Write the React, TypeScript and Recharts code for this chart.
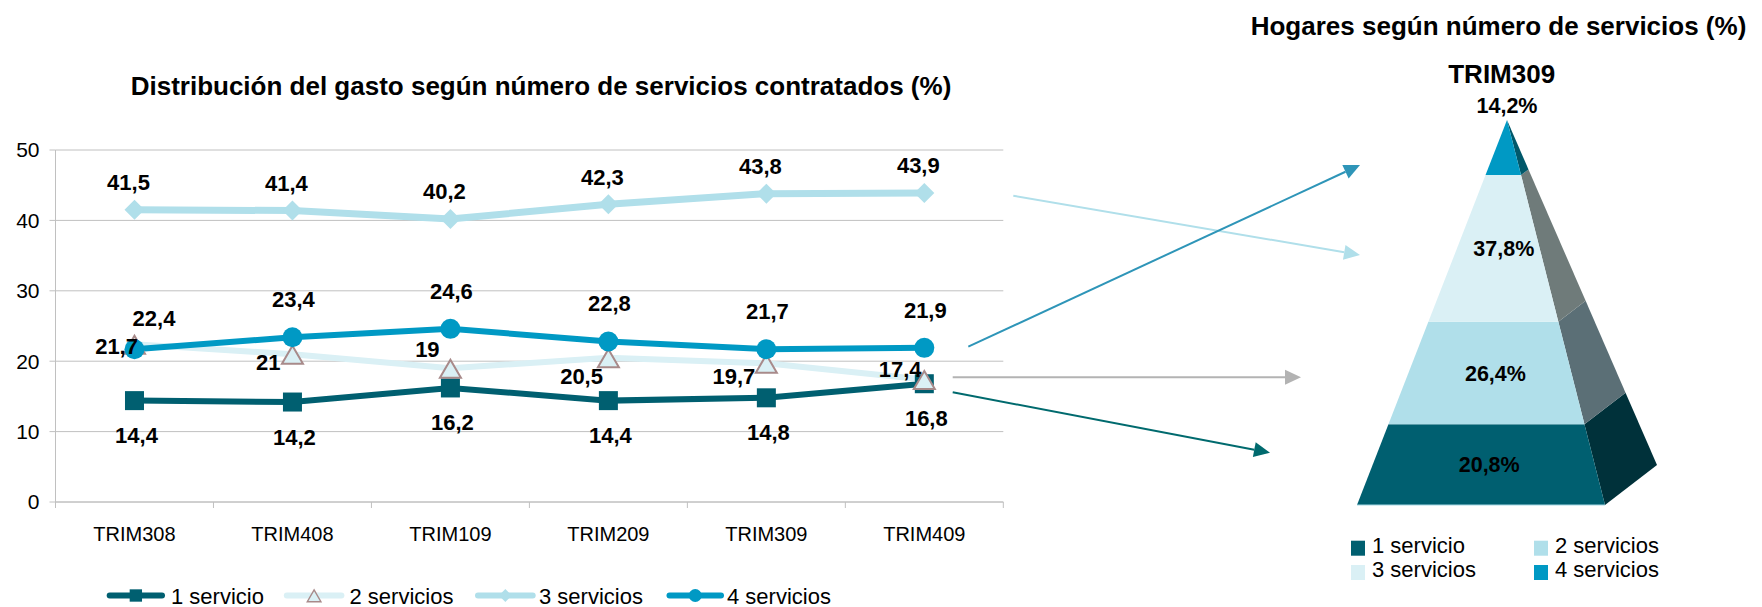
import React from 'react';
import { LineChart, Line, XAxis, YAxis, CartesianGrid, LabelList, Legend, BarChart, Bar } from 'recharts';

// ---------- data ----------
const categories = ['TRIM308', 'TRIM408', 'TRIM109', 'TRIM209', 'TRIM309', 'TRIM409'];
const oneService = [14.4, 14.2, 16.2, 14.4, 14.8, 16.8];
const twoServices = [22.4, 21, 19, 20.5, 19.7, 17.4];
const threeServices = [41.5, 41.4, 40.2, 42.3, 43.8, 43.9];
const fourServices = [21.7, 23.4, 24.6, 22.8, 21.7, 21.9];
const yTicks = [0, 10, 20, 30, 40, 50];
const seriesNames = ['1 servicio', '2 servicios', '3 servicios', '4 servicios'];

const pyramidPeriod = 'TRIM309';
const pyramidShares = [20.8, 26.4, 37.8, 14.2]; // 1, 2, 3, 4 servicios (bottom to top)

const leftTitle = 'Distribución del gasto según número de servicios contratados (%)';
const rightTitle = 'Hogares según número de servicios (%)';

const lineData = categories.map((c, i) => ({
  cat: c,
  s1: oneService[i],
  s2: twoServices[i],
  s3: threeServices[i],
  s4: fourServices[i],
}));
const pyramidTotal = pyramidShares.reduce((a, b) => a + b, 0);
const pyramidData = [
  { name: pyramidPeriod, p1: pyramidShares[0], p2: pyramidShares[1], p3: pyramidShares[2], p4: pyramidShares[3] },
];

// ---------- styles ----------
const FONT = '"Liberation Sans", Arial, Helvetica, sans-serif';
const GRID = '#c0c0c0';
const C1 = '#005f70';
const C2 = '#daf0f5';
const C3 = '#b0dfea';
const C4 = '#0099c4';
const TRI_STROKE = '#a88a8a';
const lineColors = [C1, C2, C3, C4];

const fmt = (v: any) => String(v).replace('.', ',');

const LC = { width: 1010, height: 607, top: 150, bottom: 105, right: 6.7, yAxisW: 55.5 };
const BAND = (LC.width - LC.right - LC.yAxisW) / categories.length;

// ---------- markers ----------
function drawMarker(kind: number, cx: number, cy: number, s: number, key?: any) {
  if (kind === 0) {
    const h = 9.5 * s;
    return <rect key={key} x={cx - h} y={cy - h} width={2 * h} height={2 * h} fill={C1} />;
  }
  if (kind === 1) {
    const hw = 10.5 * s;
    return (
      <polygon
        key={key}
        points={`${cx},${cy - 8.5 * s} ${cx + hw},${cy + 9.5 * s} ${cx - hw},${cy + 9.5 * s}`}
        fill={C2}
        stroke={TRI_STROKE}
        strokeWidth={2 * Math.max(s, 0.7)}
      />
    );
  }
  if (kind === 2) {
    const h = 10 * s;
    return <polygon key={key} points={`${cx},${cy - h} ${cx + h},${cy} ${cx},${cy + h} ${cx - h},${cy}`} fill={C3} />;
  }
  return <circle key={key} cx={cx} cy={cy} r={10 * s} fill={C4} />;
}

const dotRenderer = (kind: number) => (p: any) => {
  if (p.cx == null || p.cy == null) return <g key={p.index} />;
  return drawMarker(kind, p.cx, p.cy, 1, p.index);
};

// ---------- labels ----------
type Nudge = { dx: number; dy: number; anchor: 'start' | 'middle' | 'end' };
const twoLabelNudges: Nudge[] = [
  { dx: 19.5, dy: -18, anchor: 'middle' },
  { dx: -12, dy: 15.4, anchor: 'end' },
  { dx: -10.8, dy: -11, anchor: 'end' },
  { dx: -5.4, dy: 26, anchor: 'end' },
  { dx: -11, dy: 21, anchor: 'end' },
  { dx: -2.8, dy: -3, anchor: 'end' },
];
const fourLabelNudges = (i: number): Nudge =>
  i === 0 ? { dx: 3.5, dy: 4.9, anchor: 'end' } : { dx: 1, dy: -30, anchor: 'middle' };

const pointLabel = (nudge: (i: number) => Nudge) => (p: any) => {
  const vb = p.viewBox || {};
  const x = p.x ?? vb.x;
  const y = p.y ?? vb.y;
  if (x == null || y == null) return null;
  const n = nudge(p.index ?? 0);
  return (
    <text
      key={p.index}
      x={x + n.dx}
      y={y + n.dy}
      textAnchor={n.anchor}
      fontSize={22}
      fontWeight="bold"
      fill="#000"
      fontFamily={FONT}
    >
      {fmt(p.value)}
    </text>
  );
};

// ---------- x axis tick ----------
const XTick = (p: any) => {
  const { x, y, payload, index } = p;
  const last = payload && payload.value === categories[categories.length - 1];
  return (
    <g>
      <line x1={x - BAND / 2} x2={x - BAND / 2} y1={y} y2={y + 6} stroke={GRID} />
      {last ? <line x1={x + BAND / 2} x2={x + BAND / 2} y1={y} y2={y + 6} stroke={GRID} /> : null}
      <text x={x} y={y + 38.5} textAnchor="middle" fontSize={20} fill="#000" fontFamily={FONT} key={index}>
        {payload.value}
      </text>
    </g>
  );
};

// ---------- left legend ----------
const leftLegendItems = [
  { x0: 106.7, x1: 165, tx: 171 },
  { x0: 283.8, x1: 344.4, tx: 349.5 },
  { x0: 475, x1: 535.7, tx: 539 },
  { x0: 666.5, x1: 724, tx: 727 },
];
const LeftLegend = () => (
  <svg width={LC.width} height={32} style={{ display: 'block', overflow: 'visible' }}>
    {seriesNames.map((name, i) => {
      const it = leftLegendItems[i];
      const cy = 20.5;
      return (
        <g key={name}>
          <line x1={it.x0 + 3} x2={it.x1 - 3} y1={cy} y2={cy} stroke={lineColors[i]} strokeWidth={6} strokeLinecap="round" />
          {drawMarker(i, (it.x0 + it.x1) / 2, cy, 0.65)}
          <text x={it.tx} y={28.5} fontSize={22} fill="#000" fontFamily={FONT}>
            {name}
          </text>
        </g>
      );
    })}
  </svg>
);

// ---------- pyramid ----------
const PY = { apexX: 307, apexY: 120, baseY: 505, baseLX: 157, baseRX: 405, backX: 457, backY: 465 };
const pyrFront = [C1, C3, C2, C4];
const pyrSide = ['#00313a', '#5b6f76', '#6f7b7a', '#00586a'];
const tOf = (y: number) => (y - PY.apexY) / (PY.baseY - PY.apexY);
const frontL = (y: number) => PY.apexX + tOf(y) * (PY.baseLX - PY.apexX);
const frontR = (y: number) => PY.apexX + tOf(y) * (PY.baseRX - PY.apexX);
const backPt = (y: number) => [PY.apexX + tOf(y) * (PY.backX - PY.apexX), PY.apexY + tOf(y) * (PY.backY - PY.apexY)];

const PyramidLayer = (p: any) => {
  const { y, height, layer } = p;
  if (y == null || height == null) return <g />;
  const yt = y;
  const yb = y + height;
  const bt = backPt(yt);
  const bb = backPt(yb);
  const side = `${frontR(yt)},${yt} ${bt[0]},${bt[1]} ${bb[0]},${bb[1]} ${frontR(yb)},${yb}`;
  const front = `${frontL(yt)},${yt} ${frontR(yt)},${yt} ${frontR(yb)},${yb} ${frontL(yb)},${yb}`;
  return (
    <g>
      <polygon points={side} fill={pyrSide[layer]} />
      <polygon points={front} fill={pyrFront[layer]} />
      {layer === 0 ? (
        <line x1={frontL(yb)} x2={frontR(yb)} y1={yb} y2={yb} stroke="#a6d8e3" strokeWidth={1.2} />
      ) : null}
    </g>
  );
};

const pyramidLabel = (layer: number) => (p: any) => {
  const vb = p.viewBox || {};
  const y = p.y ?? vb.y;
  const h = p.height ?? vb.height;
  if (y == null || h == null) return null;
  let v = p.value;
  if (Array.isArray(v)) v = Math.round((v[1] - v[0]) * 10) / 10;
  const txt = fmt(v) + '%';
  if (layer === 3) {
    return (
      <text x={PY.apexX} y={y - 7.3} textAnchor="middle" fontSize={21.5} fontWeight="bold" fill="#000" fontFamily={FONT}>
        {txt}
      </text>
    );
  }
  const mid = y + h / 2;
  const cx = (frontL(mid) + frontR(mid)) / 2 + 5.5;
  return (
    <text x={cx} y={mid + 7.7} textAnchor="middle" fontSize={21.5} fontWeight="bold" fill="#000" fontFamily={FONT}>
      {txt}
    </text>
  );
};

const RL_TOP = 525;
const rightLegendPos = [
  { sx: 151, tx: 172, sy: 540.7, ty: 553 },
  { sx: 334, tx: 355, sy: 540.7, ty: 553 },
  { sx: 151, tx: 172, sy: 565, ty: 576.7 },
  { sx: 334, tx: 355, sy: 565, ty: 576.7 },
];
const RightLegend = () => (
  <svg width={562} height={70} style={{ display: 'block', overflow: 'visible' }}>
    {seriesNames.map((name, i) => {
      const pos = rightLegendPos[i];
      return (
        <g key={name}>
          <rect x={pos.sx} y={pos.sy - RL_TOP} width={14} height={15} fill={pyrFront[i]} />
          <text x={pos.tx} y={pos.ty - RL_TOP} fontSize={22} fill="#000" fontFamily={FONT}>
            {name}
          </text>
        </g>
      );
    })}
  </svg>
);

// ---------- arrows (annotations) ----------
const arrows = [
  { x1: 1013.3, y1: 195.7, x2: 1360, y2: 255, color: '#b0dfea' },
  { x1: 968.3, y1: 346.7, x2: 1360, y2: 165, color: '#2e95b8' },
  { x1: 952.7, y1: 377.3, x2: 1301, y2: 377.3, color: '#b3b3b3' },
  { x1: 952.7, y1: 392.3, x2: 1270, y2: 452.7, color: '#006a6e' },
];
const Arrow = ({ a }: { a: any }) => {
  const dx = a.x2 - a.x1;
  const dy = a.y2 - a.y1;
  const len = Math.sqrt(dx * dx + dy * dy);
  const ux = dx / len;
  const uy = dy / len;
  const bx = a.x2 - ux * 16;
  const by = a.y2 - uy * 16;
  const nx = -uy * 7.5;
  const ny = ux * 7.5;
  return (
    <g>
      <line x1={a.x1} y1={a.y1} x2={bx} y2={by} stroke={a.color} strokeWidth={2} />
      <polygon points={`${a.x2},${a.y2} ${bx + nx},${by + ny} ${bx - nx},${by - ny}`} fill={a.color} />
    </g>
  );
};

export default function App() {
  return (
    <div style={{ position: 'absolute', left: 0, top: 0, width: 1762, height: 607, background: '#fff', fontFamily: FONT }}>
      <div style={{ position: 'absolute', left: 0, top: 0 }}>
        <LineChart
          width={LC.width}
          height={LC.height}
          data={lineData}
          margin={{ top: LC.top, right: LC.right, bottom: 65, left: 0 }}
        >
          <CartesianGrid horizontal vertical={false} stroke={GRID} strokeWidth={1} />
          <XAxis
            dataKey="cat"
            height={40}
            padding={{ left: BAND / 2, right: BAND / 2 }}
            axisLine={{ stroke: GRID }}
            tickLine={false}
            tickSize={0}
            tickMargin={0}
            interval={0}
            tick={<XTick />}
          />
          <YAxis
            width={LC.yAxisW}
            domain={[0, 50]}
            ticks={yTicks}
            axisLine={{ stroke: GRID }}
            tickLine={{ stroke: GRID }}
            tickSize={6}
            tickMargin={10}
            tick={{ fontSize: 21, fill: '#000', fontFamily: FONT }}
          />
          <YAxis
            yAxisId="frame"
            orientation="right"
            width={0}
            domain={[0, 50]}
            type="number"
            tick={false}
            tickLine={false}
            axisLine={{ stroke: GRID }}
          />
          <Line
            type="linear"
            dataKey="s1"
            name={seriesNames[0]}
            stroke={C1}
            strokeWidth={6}
            dot={dotRenderer(0)}
            activeDot={false}
            isAnimationActive={false}
          >
            <LabelList dataKey="s1" content={pointLabel(() => ({ dx: 2, dy: 42.5, anchor: 'middle' }))} />
          </Line>
          <Line
            type="linear"
            dataKey="s2"
            name={seriesNames[1]}
            stroke={C2}
            strokeWidth={6}
            dot={dotRenderer(1)}
            activeDot={false}
            isAnimationActive={false}
          >
            <LabelList dataKey="s2" content={pointLabel((i) => twoLabelNudges[i])} />
          </Line>
          <Line
            type="linear"
            dataKey="s3"
            name={seriesNames[2]}
            stroke={C3}
            strokeWidth={7}
            dot={dotRenderer(2)}
            activeDot={false}
            isAnimationActive={false}
          >
            <LabelList dataKey="s3" content={pointLabel(() => ({ dx: -6, dy: -19.5, anchor: 'middle' }))} />
          </Line>
          <Line
            type="linear"
            dataKey="s4"
            name={seriesNames[3]}
            stroke={C4}
            strokeWidth={6}
            dot={dotRenderer(3)}
            activeDot={false}
            isAnimationActive={false}
          >
            <LabelList dataKey="s4" content={pointLabel(fourLabelNudges)} />
          </Line>
          <Legend
            layout="horizontal"
            verticalAlign="middle"
            align="center"
            wrapperStyle={{ position: 'absolute', top: 575, left: 0, width: LC.width, height: 32 }}
            content={() => <LeftLegend />}
          />
        </LineChart>
      </div>

      <div style={{ position: 'absolute', left: 1200, top: 0 }}>
        <BarChart
          width={562}
          height={607}
          data={pyramidData}
          margin={{ top: PY.apexY, right: 0, bottom: 607 - PY.baseY, left: 0 }}
          barCategoryGap={0}
        >
          <XAxis dataKey="name" hide />
          <YAxis hide domain={[0, pyramidTotal]} />
          {['p1', 'p2', 'p3', 'p4'].map((k, i) => (
            <Bar
              key={k}
              dataKey={k}
              name={seriesNames[i]}
              stackId="pyr"
              fill={pyrFront[i]}
              isAnimationActive={false}
              shape={(p: any) => <PyramidLayer {...p} layer={i} />}
            >
              <LabelList dataKey={k} content={pyramidLabel(i)} />
            </Bar>
          ))}
          <Legend
            layout="horizontal"
            verticalAlign="middle"
            align="center"
            wrapperStyle={{ position: 'absolute', top: RL_TOP, left: 0, width: 562, height: 70 }}
            content={() => <RightLegend />}
          />
        </BarChart>
      </div>

      <svg
        width={1762}
        height={607}
        style={{ position: 'absolute', left: 0, top: 0, pointerEvents: 'none' }}
      >
        <text x={541} y={95} textAnchor="middle" fontSize={26} fontWeight="bold" fill="#000" fontFamily={FONT}>
          {leftTitle}
        </text>
        <text x={1498.5} y={35} textAnchor="middle" fontSize={26} fontWeight="bold" fill="#000" fontFamily={FONT}>
          {rightTitle}
        </text>
        <text x={1501.7} y={83} textAnchor="middle" fontSize={26} fontWeight="bold" fill="#000" fontFamily={FONT}>
          {pyramidPeriod}
        </text>
        {arrows.map((a, i) => (
          <Arrow key={i} a={a} />
        ))}
      </svg>
    </div>
  );
}
